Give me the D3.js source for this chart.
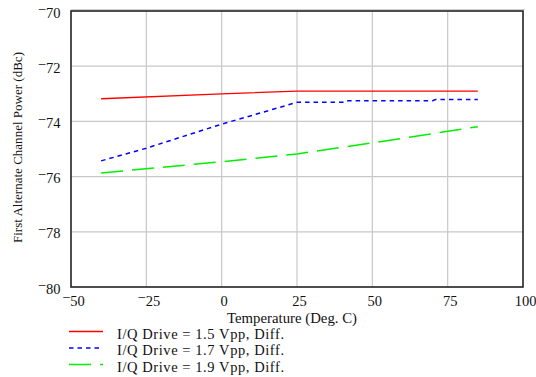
<!DOCTYPE html>
<html><head><meta charset="utf-8">
<script src="https://cdn.jsdelivr.net/npm/d3@7"></script>
<style>
body{margin:0;background:#fff;}
text{font-family:"Liberation Serif","Times New Roman",serif;fill:#111;}
</style></head>
<body><svg id="c" width="536" height="377"></svg>
<script>
const xTicks = [-50,-25,0,25,50,75,100];
const yTicks = [-80,-78,-76,-74,-72,-70];
const seriesNames = ["I/Q Drive = 1.5 Vpp, Diff.","I/Q Drive = 1.7 Vpp, Diff.","I/Q Drive = 1.9 Vpp, Diff."];
const redX = [-40,0,25,85];
const redY = [-73.18,-73.0,-72.9,-72.9];
const blueX = [-40,-25,0,25,41,42,70,71,85];
const blueY = [-75.43,-74.97,-74.1,-73.31,-73.31,-73.25,-73.25,-73.21,-73.21];
const greenX = [-40,0,25,50,85];
const greenY = [-75.87,-75.46,-75.18,-74.78,-74.19];
const xTitle = "Temperature (Deg. C)";
const yTitle = "First Alternate Channel Power (dBc)";

const svg = d3.select("#c");
const L=71,T=11,R=523,B=287;
const x = d3.scaleLinear().domain([-50,100]).range([L,R]);
const y = d3.scaleLinear().domain([-80,-70]).range([B,T]);

// grid
svg.append("g").selectAll("line").data(xTicks.slice(1,-1)).join("line")
  .attr("x1",d=>x(d)).attr("x2",d=>x(d)).attr("y1",T).attr("y2",B)
  .attr("stroke","#c8c8c8").attr("stroke-width",1.2);
svg.append("g").selectAll("line").data(yTicks.slice(1,-1)).join("line")
  .attr("y1",d=>y(d)).attr("y2",d=>y(d)).attr("x1",L).attr("x2",R)
  .attr("stroke","#c8c8c8").attr("stroke-width",1.2);
svg.append("line").attr("x1",L).attr("x2",R+2).attr("y1",T-1.5).attr("y2",T-1.5).attr("stroke","#d0d0d0").attr("stroke-width",1);

// frame
svg.append("rect").attr("x",L).attr("y",T).attr("width",R-L).attr("height",B-T)
  .attr("fill","none").attr("stroke","#222").attr("stroke-width",1.6);

function label(g, v){
  const s = String(Math.abs(v));
  if(v<0){
    g.append("tspan").attr("dy",-4).text("\u2212");
    g.append("tspan").attr("dy",4).text(s);
  } else g.text(s);
}
// x ticks
svg.append("g").selectAll("text").data(xTicks).join("text")
  .attr("x",d=>x(d)+2.5).attr("y",305.5).attr("text-anchor","middle").attr("font-size",14.5)
  .each(function(d){label(d3.select(this),d);});
// y ticks
svg.append("g").selectAll("text").data(yTicks).join("text")
  .attr("x",60.5).attr("y",d=>y(d)+6.5).attr("text-anchor","end").attr("font-size",14.5)
  .each(function(d){label(d3.select(this),d);});

svg.append("text").attr("x",227).attr("y",323).attr("font-size",14)
  .attr("textLength",130).attr("lengthAdjust","spacingAndGlyphs").text(xTitle);
svg.append("text").attr("transform","translate(21.5,243) rotate(-90)").attr("font-size",13)
  .attr("textLength",191).attr("lengthAdjust","spacingAndGlyphs").text(yTitle);

const line = d3.line().x(d=>x(d[0])).y(d=>y(d[1]));
const series = [
  {xs:redX, ys:redY, color:"#ff0000", dash:null, w:1.3},
  {xs:blueX, ys:blueY, color:"#0000ff", dash:"4.5,4", w:1.5},
  {xs:greenX, ys:greenY, color:"#00f000", dash:"22,9", w:1.5}
];
series.forEach(s=>{
  svg.append("path").attr("d",line(s.xs.map((v,i)=>[v,s.ys[i]])))
    .attr("fill","none").attr("stroke",s.color).attr("stroke-width",s.w)
    .attr("stroke-dasharray",s.dash);
});

// legend
const lg = [331.5,348,364.5];
series.forEach((s,i)=>{
  svg.append("line").attr("x1",69).attr("x2",103).attr("y1",lg[i]).attr("y2",lg[i])
    .attr("stroke",s.color).attr("stroke-width",s.w).attr("stroke-dasharray",s.dash);
  svg.append("text").attr("x",117).attr("y",lg[i]+7).attr("font-size",14.5)
    .attr("textLength",167).attr("lengthAdjust","spacing").text(seriesNames[i]);
});
</script></body></html>
